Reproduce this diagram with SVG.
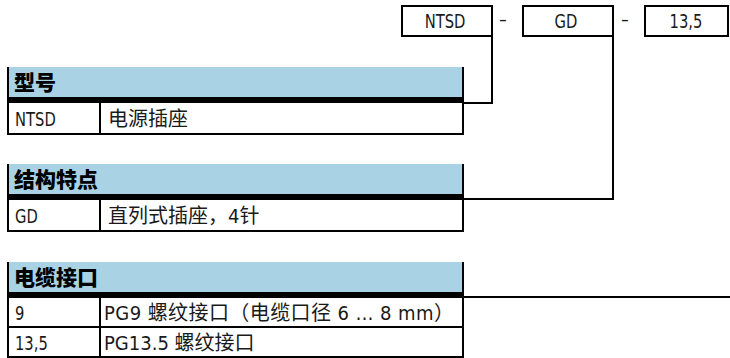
<svg xmlns="http://www.w3.org/2000/svg" width="730" height="358" viewBox="0 0 730 358">
<style>
.bg{fill:#ffffff}
.hdr{fill:#a9d2e4}
.ln{fill:none;stroke:#000;stroke-width:2}
.band{fill:#000}
.lat{font-family:"DejaVu Sans Condensed","DejaVu Sans","Noto Sans CJK SC",sans-serif;font-size:20px;fill:#1a1a1a}
.cjk{font-family:"DejaVu Sans Condensed","Noto Sans CJK SC",sans-serif;font-size:20px;fill:#1a1a1a}
.h{font-family:"Noto Sans CJK SC",sans-serif;font-size:21px;font-weight:900;fill:#000}
.mid{text-anchor:middle}
</style>
<rect class="bg" x="0" y="0" width="730" height="358"/>

<g id="code-ntsd">
<rect class="ln" x="402" y="6" width="90" height="30"/>
<text class="lat mid" transform="translate(445 28) scale(0.82 1)">NTSD</text>
</g>
<g id="dash-1"><text class="lat mid" transform="translate(503 26) scale(0.82 1)">–</text></g>
<g id="code-gd">
<rect class="ln" x="523" y="6" width="90" height="30"/>
<text class="lat mid" transform="translate(566 28) scale(0.82 1)">GD</text>
</g>
<g id="dash-2"><text class="lat mid" transform="translate(625 26) scale(0.82 1)">–</text></g>
<g id="code-135">
<rect class="ln" x="645" y="6" width="83" height="30"/>
<text class="lat mid" transform="translate(686 28) scale(0.82 1)">13,5</text>
</g>

<g id="table-type">
<rect class="hdr" x="8" y="67" width="455" height="30"/>
<rect class="band" x="7" y="97" width="457" height="6"/>
<path class="ln" d="M8,67V134M463,67V134M7,134H464M100,103V134"/>
<text class="h" x="14" y="90">型号</text>
<text class="lat" transform="translate(15 126) scale(0.82 1)">NTSD</text>
<text class="cjk" x="108" y="126">电源插座</text>
</g>

<g id="table-structure">
<rect class="hdr" x="8" y="164" width="455" height="30"/>
<rect class="band" x="7" y="194" width="457" height="6"/>
<path class="ln" d="M8,164V231M463,164V231M7,231H464M100,200V231"/>
<text class="h" x="14" y="187">结构特点</text>
<text class="lat" transform="translate(15 223) scale(0.82 1)">GD</text>
<text class="cjk" x="108" y="223">直列式插座，4针</text>
</g>

<g id="table-cable">
<rect class="hdr" x="8" y="262" width="455" height="30"/>
<rect class="band" x="7" y="292" width="457" height="6"/>
<path class="ln" d="M8,262V357M463,262V357M7,327H464M7,357H464M100,298V357"/>
<text class="h" x="14" y="285">电缆接口</text>
<text class="lat" transform="translate(15 320) scale(0.82 1)">9</text>
<text class="cjk" x="104" y="320" textLength="350" lengthAdjust="spacing">PG9 螺纹接口（电缆口径 6 … 8 mm）</text>
<text class="lat" transform="translate(15 350) scale(0.82 1)">13,5</text>
<text class="cjk" x="104" y="350">PG13.5 螺纹接口</text>
</g>

<g id="connectors">
<path class="ln" d="M492,36V103H463"/>
<path class="ln" d="M613,36V199H463"/>
<path class="ln" d="M463,297H730"/>
</g>
</svg>
